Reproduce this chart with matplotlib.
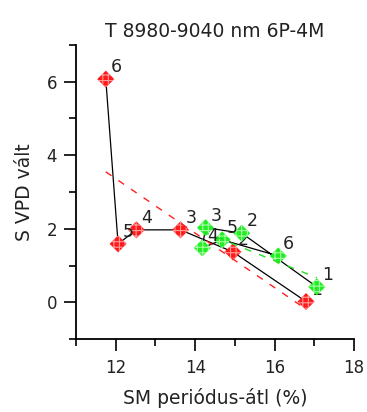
import matplotlib
matplotlib.use("Agg")
import matplotlib.pyplot as plt
import numpy as np

# Data
labels = ["1", "2", "3", "4", "5", "6"]
red_x = [16.79, 14.95, 13.63, 12.52, 12.06, 11.75]
red_y = [0.02, 1.37, 1.97, 1.97, 1.59, 6.07]
green_x = [17.06, 15.17, 14.26, 14.18, 14.68, 16.09]
green_y = [0.42, 1.88, 2.03, 1.48, 1.70, 1.26]

title = "T 8980-9040 nm 6P-4M"
xlabel = "SM periódus-átl (%)"
ylabel = "S VPD vált"
xticks = [12, 14, 16, 18]
yticks = [0, 2, 4, 6]

plt.rcParams['font.family'] = ['DejaVu Sans']
plt.rcParams['hatch.linewidth'] = 0.8

fig = plt.figure(figsize=(3.67, 4.12), dpi=100)
ax = fig.add_axes([0.207, 0.177, 0.758, 0.714])

txtcol = '#222222'

def draw_series(xs, ys, color, hatchcol):
    ax.plot(xs, ys, color='black', lw=0.9, zorder=2)
    ax.scatter(xs, ys, marker='D', s=75, facecolor=color, edgecolor=hatchcol,
               linewidths=0, hatch='+++', zorder=3)
    for x, y, t in zip(xs, ys, labels):
        ax.annotate(t, (x, y), xytext=(7.5, 8.5), textcoords='offset points',
                    ha='center', va='center', fontsize=12.5, color=txtcol, zorder=3)

draw_series(red_x, red_y, '#ff1a1a', '#ff9a9a')
draw_series(green_x, green_y, '#22ee22', '#a8ffa8')

for xs, ys, color in [(red_x, red_y, '#ff2020'), (green_x, green_y, '#22dd22')]:
    k, b = np.polyfit(xs, ys, 1)
    xx = np.array([min(xs), max(xs)])
    ax.plot(xx, k * xx + b, color=color, lw=1.0, ls=(0, (5, 6)), zorder=4)

ax.set_xlim(11, 18)
ax.set_ylim(-1, 7)
ax.set_xticks(xticks)
ax.set_yticks(yticks)
ax.set_xticks([11, 13, 15, 17], minor=True)
ax.set_yticks([-1, 1, 3, 5, 7], minor=True)
for s in ['top', 'right']:
    ax.spines[s].set_visible(False)
for s in ['left', 'bottom']:
    ax.spines[s].set_linewidth(1.3)
ax.tick_params(which='major', length=8.5, width=1.2, labelsize=12, labelcolor=txtcol)
ax.tick_params(which='minor', length=5, width=1.2)
ax.tick_params(axis='x', which='major', pad=6)
ax.tick_params(axis='y', which='major', pad=5)

ax.set_title(title, fontsize=13.5, color=txtcol, pad=6)
ax.set_xlabel(xlabel, fontsize=13.5, color=txtcol, labelpad=8)
ax.set_ylabel(ylabel, fontsize=13.5, color=txtcol, labelpad=9)

fig.savefig("out.png", dpi=100)
